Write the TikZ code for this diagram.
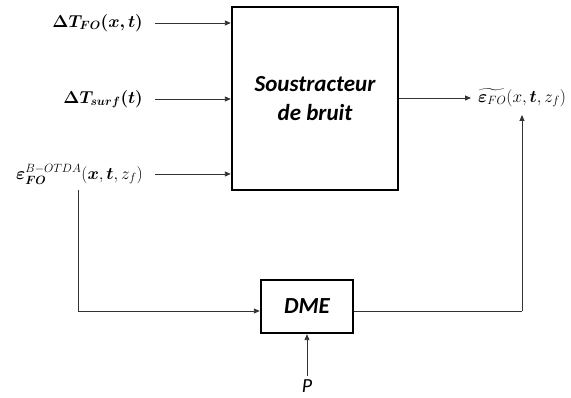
\documentclass[tikz,border=0pt]{standalone}
\usepackage{amsmath}
\usepackage{bm}
\usepackage{fontspec}
\setmainfont{Carlito}
\usetikzlibrary{arrows.meta}
\begin{document}
\begin{tikzpicture}[x=1pt,y=-1pt,
  blockbox/.style={draw=black,line width=2.4pt,inner sep=0pt},
  conn/.style={draw=black!80,line width=0.9pt},
  arr/.style={conn,-{Triangle[length=6pt,width=5pt]}},
  lbl/.style={inner sep=0pt,font=\fontsize{18}{21}\selectfont},
  boxtxt/.style={font=\fontsize{23}{29}\selectfont\bfseries\itshape,align=center}]
\useasboundingbox (0,0) rectangle (571,398);
% main block
\node[blockbox,minimum width=166pt,minimum height=183pt] (sb) at (315,98.5) {};
\node[boxtxt] (sbt) at (sb.center) {Soustracteur\\de bruit};
% DME
\node[blockbox,minimum width=92pt,minimum height=53pt] (dme) at (307,306.5) {};
\node[boxtxt] (dmet) at (dme.center) {DME};
% inputs
\node[lbl,anchor=east] (in1) at (143,23) {$\bm{\Delta T_{FO}(x,t)}$};
\node[lbl,anchor=east] (in2) at (143,99) {$\bm{\Delta T_{surf}(t)}$};
\node[lbl,anchor=east] (in3) at (143,174) {$\bm{\varepsilon}_{\bm{FO}}^{B-OTDA}(\bm{x},\bm{t},z_f)$};
\coordinate (s1) at (155,23);
\coordinate (s2) at (155,99);
\coordinate (s3) at (155,174);
\draw[arr] (s1) -- (s1 -| sb.west);
\draw[arr] (s2) -- (s2 -| sb.west);
\draw[arr] (s3) -- (s3 -| sb.west);
% output
\node[lbl,anchor=west] (out) at (478,98) {$\widetilde{\bm{\varepsilon}_{FO}}(x,\bm{t},z_f)$};
\coordinate (o1) at (sb.east |- out.west);
\coordinate (o2) at (471,98);
\draw[arr] (o1) -- (o2);
% feedback through DME
\coordinate (v1) at (78,190);
\coordinate (v2) at (78,311);
\draw[conn] (v1) -- (v2);
\draw[arr] (v2) -- (v2 -| dme.west);
\coordinate (r1) at (dme.east |- v2);
\coordinate (r2) at (522,311);
\coordinate (r3) at (522,115);
\draw[conn] (r1) -- (r2);
\draw[arr] (r2) -- (r3);
% P
\node[inner sep=0pt,font=\fontsize{20}{22}\selectfont\itshape] (p) at (307,386) {P};
\coordinate (p1) at (307,376);
\draw[arr] (p1) -- (dme.south);
\end{tikzpicture}
\end{document}
